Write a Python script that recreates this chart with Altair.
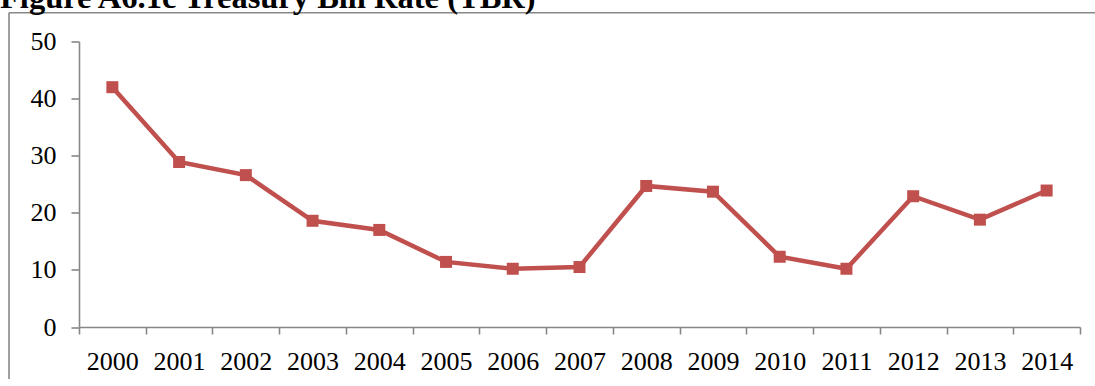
import altair as alt
import pandas as pd

years = ["2000", "2001", "2002", "2003", "2004", "2005", "2006", "2007",
         "2008", "2009", "2010", "2011", "2012", "2013", "2014"]
rates = [42.0, 28.9, 26.6, 18.6, 17.0, 11.4, 10.2, 10.5,
         24.7, 23.7, 12.3, 10.2, 22.9, 18.8, 23.9]
title_text = "Figure A6.1c Treasury Bill Rate (TBR)"

df = pd.DataFrame({"year": years, "rate": rates})

FONT = "Liberation Serif"
AXIS_GRAY = "#878787"
RED = "#C0504D"

x_enc = alt.X("year:O", sort=years,
              scale=alt.Scale(paddingInner=0, paddingOuter=0),
              axis=alt.Axis(title=None, labelAngle=0, tickBand="extent",
                            labelFontSize=26, labelFont=FONT, labelColor="#000",
                            labelBaseline="alphabetic", labelPadding=35,
                            tickSize=7, tickColor=AXIS_GRAY, domainColor=AXIS_GRAY,
                            domainWidth=1.6, tickWidth=1.6))
y_enc = alt.Y("rate:Q", scale=alt.Scale(domain=[0, 50], nice=False),
              axis=alt.Axis(title=None, values=[0, 10, 20, 30, 40, 50], grid=False,
                            labelFontSize=26, labelFont=FONT, labelColor="#000",
                            labelPadding=15, tickSize=8, tickColor=AXIS_GRAY,
                            domainColor=AXIS_GRAY, domainWidth=1.6, tickWidth=1.6))

base = alt.Chart(df)
line = base.mark_line(color=RED, strokeWidth=4.5).encode(x=x_enc, y=y_enc)
pts = base.mark_point(shape="square", filled=True, size=144, color=RED, opacity=1).encode(x=x_enc, y=y_enc)

frame_df = pd.DataFrame({"k": [0]})
frame_top = alt.Chart(frame_df).mark_rule(stroke=AXIS_GRAY, strokeWidth=1.6).encode(
    x=alt.value(-70), x2=alt.value(1030), y=alt.value(-28.8))
frame_left = alt.Chart(frame_df).mark_rule(stroke=AXIS_GRAY, strokeWidth=1.6).encode(
    x=alt.value(-70), y=alt.value(-28.8), y2=alt.value(345))

title_df = pd.DataFrame({"t": [title_text]})
title = alt.Chart(title_df).mark_text(font=FONT, fontSize=32.5, fontWeight="bold",
                                      align="left", baseline="alphabetic", color="#000").encode(
    text="t:N", x=alt.value(-79), y=alt.value(8 - 41.5))

chart = alt.layer(frame_top, frame_left, title, line, pts).properties(
    width=1001, height=285.5,
    background="white",
    autosize=alt.AutoSizeParams(type="none"),
    padding={"left": 79, "top": 41.5, "right": 15, "bottom": 52},
).configure_view(stroke="transparent", strokeWidth=0)

chart.save("out.html", embed_options={"renderer": "svg", "actions": False})
